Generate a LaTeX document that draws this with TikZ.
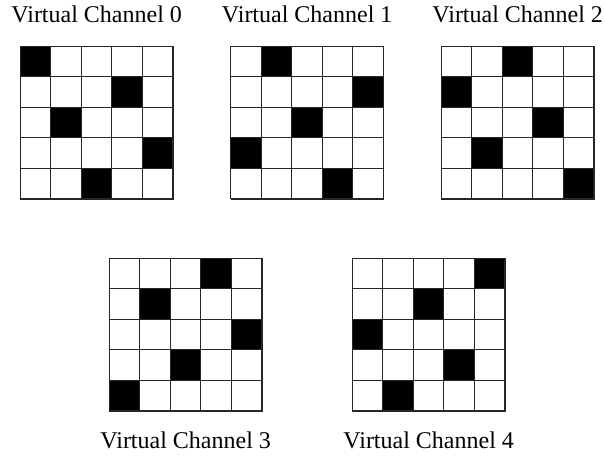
\documentclass[tikz,border=0pt]{standalone}
\usepackage{fontspec}
\setmainfont{Liberation Serif}
\usetikzlibrary{positioning}

\begin{document}
\begin{tikzpicture}[
  x=1pt, y=-1pt,
  every node/.style={font=\fontsize{24}{28}\selectfont},
  gridframe/.style={draw=black!85, line width=0.9pt, minimum size=152.5pt, inner sep=0pt, anchor=north west},
  cellbox/.style={draw=black!85, line width=0.9pt, fill=#1},
  vclabel/.style={inner sep=0pt}
]
\useasboundingbox (0,0) rectangle (605,461);
\def\cs{30.5}
% grids: channel k, row r has its black cell in column (k+3r) mod 5
\foreach \k/\gx/\gy in {0/20/46,1/230.5/46,2/441/46,3/109/258,4/352/258}{
  \node[gridframe] (g\k) at (\gx,\gy) {};
  \foreach \r in {0,...,4}
    \foreach \c in {0,...,4}{
      \pgfmathtruncatemacro\col{mod(\k+3*\r,5)}
      \ifnum\c=\col \def\cellfill{black}\else\def\cellfill{white}\fi
      \draw[cellbox=\cellfill] (\gx+\c*\cs,\gy+\r*\cs) rectangle ++(\cs,\cs);
    }
}
% labels
\foreach \k/\pos/\gap in {0/above/23pt,1/above/23pt,2/above/23pt,3/below/20pt,4/below/20pt}{
  \node[vclabel, \pos=\gap of g\k] (vc\k) {Virtual Channel \k};
}
\end{tikzpicture}
\end{document}
